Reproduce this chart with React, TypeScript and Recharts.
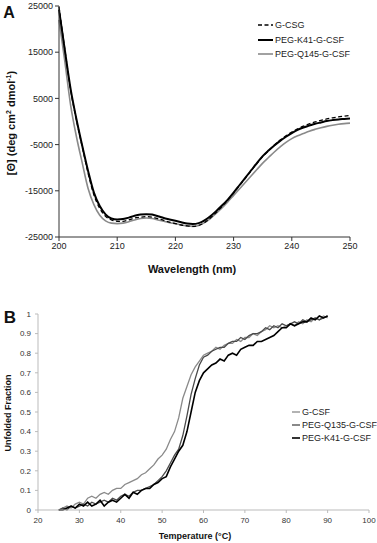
import React from "react";
import { LineChart, Line, XAxis, YAxis } from "recharts";

// Panel A – CD spectra
const wavelengths = [
  200, 201, 202, 203, 204, 205, 206, 207, 208, 209,
  210, 211, 212, 213, 214, 215, 216, 217, 218, 219,
  220, 221, 222, 223, 224, 225, 226, 227, 228, 229,
  230, 231, 232, 233, 234, 235, 236, 237, 238, 239,
  240, 241, 242, 243, 244, 245, 246, 247, 248, 249, 250,
];
const gcsgCD = [
  24800, 15600, 6800, 300, -5500, -11200, -15900, -18800, -20500, -21300,
  -21600, -21600, -21300, -20900, -20700, -20600, -20700, -21000, -21400, -21800,
  -22100, -22400, -22600, -22700, -22500, -21900, -20900, -19700, -18400, -17000,
  -15500, -13900, -12300, -10700, -9100, -7600, -6300, -5100, -4000, -3100,
  -2300, -1600, -1000, -500, -100, 250, 550, 800, 1000, 1150, 1300,
];
const k41CD = [
  24200, 15500, 7000, 500, -5300, -10700, -15400, -18300, -20100, -21000,
  -21200, -21100, -20800, -20400, -20150, -20050, -20150, -20500, -20900, -21200,
  -21500, -21800, -22100, -22200, -22000, -21400, -20500, -19400, -18200, -16900,
  -15400, -13800, -12200, -10600, -9000, -7500, -6300, -5200, -4200, -3300,
  -2500, -1800, -1300, -900, -500, -200, 100, 300, 450, 550, 650,
];
const q145CD = [
  22000, 13000, 3500, -3300, -9000, -14500, -18000, -20300, -21500, -22000,
  -22100, -22000, -21700, -21300, -21000, -20900, -21000, -21300, -21600, -21900,
  -22100, -22400, -22600, -22700, -22500, -21900, -21000, -19900, -18700, -17400,
  -16000, -14600, -13200, -11800, -10400, -9000, -7800, -6600, -5500, -4500,
  -3700, -3100, -2600, -2100, -1700, -1350, -1050, -800, -600, -450, -350,
];
const cdXTicks = [200, 210, 220, 230, 240, 250];
const cdYTicks = [-25000, -15000, -5000, 5000, 15000, 25000];

// Panel B – thermal unfolding
const temps = [
  25, 26, 27, 28, 29, 30, 31, 32, 33, 34, 35, 36, 37, 38, 39,
  40, 41, 42, 43, 44, 45, 46, 47, 48, 49, 50, 51, 52, 53, 54,
  55, 56, 57, 58, 59, 60, 61, 62, 63, 64, 65, 66, 67, 68, 69,
  70, 71, 72, 73, 74, 75, 76, 77, 78, 79, 80, 81, 82, 83, 84,
  85, 86, 87, 88, 89, 90,
];
const gcsfUnf = [
  0.0, 0.01, 0.02, 0.01, 0.03, 0.04, 0.03, 0.06, 0.07, 0.06, 0.08, 0.09, 0.08, 0.1, 0.11,
  0.11, 0.13, 0.14, 0.15, 0.16, 0.18, 0.19, 0.21, 0.23, 0.26, 0.28, 0.31, 0.36, 0.4, 0.47,
  0.57, 0.63, 0.69, 0.73, 0.76, 0.79, 0.8, 0.81, 0.83, 0.82, 0.84, 0.85, 0.85, 0.87, 0.86,
  0.88, 0.88, 0.9, 0.89, 0.91, 0.92, 0.94, 0.93, 0.94, 0.93, 0.94, 0.95, 0.94, 0.96, 0.95,
  0.97, 0.96, 0.98, 0.97, 0.99, 0.98,
];
const q135Unf = [
  0.0, 0.01, 0.0, 0.02, 0.01, 0.02, 0.03, 0.02, 0.04, 0.03, 0.04, 0.05, 0.04, 0.06, 0.05,
  0.07, 0.08, 0.07, 0.09, 0.1, 0.1, 0.11, 0.12, 0.13, 0.15, 0.17, 0.2, 0.24, 0.28, 0.31,
  0.38, 0.48, 0.59, 0.67, 0.74, 0.78, 0.79, 0.81, 0.82, 0.83, 0.83, 0.85, 0.86, 0.86, 0.88,
  0.87, 0.89, 0.9, 0.9, 0.91, 0.93, 0.92, 0.94, 0.93, 0.95, 0.94, 0.95, 0.96, 0.95, 0.97,
  0.96, 0.97, 0.98, 0.97, 0.98, 0.99,
];
const k41Unf = [
  0.0, 0.0, 0.01, 0.02, 0.01, 0.03, 0.02, 0.04, 0.02, 0.03, 0.05, 0.02, 0.04, 0.05, 0.04,
  0.06, 0.08, 0.06, 0.09, 0.08, 0.1, 0.11, 0.11, 0.13, 0.14, 0.16, 0.17, 0.22, 0.26, 0.3,
  0.33, 0.4, 0.5, 0.6, 0.66, 0.7, 0.72, 0.74, 0.75, 0.77, 0.76, 0.79, 0.8, 0.79, 0.82,
  0.83, 0.84, 0.84, 0.86, 0.86, 0.87, 0.88, 0.89, 0.91, 0.93, 0.93, 0.95, 0.94, 0.95, 0.96,
  0.96, 0.98, 0.97, 0.99, 0.98, 0.99,
];
const unfXTicks = [20, 30, 40, 50, 60, 70, 80, 90, 100];
const unfYTicks = [0, 0.1, 0.2, 0.3, 0.4, 0.5, 0.6, 0.7, 0.8, 0.9, 1];

const cdData = wavelengths.map((nm, i) => ({
  nm, gcsg: gcsgCD[i], k41: k41CD[i], q145: q145CD[i],
}));
const unfData = temps.map((t, i) => ({
  t, gcsf: gcsfUnf[i], q135: q135Unf[i], k41: k41Unf[i],
}));

const cdSeries = [
  { name: "G-CSG", color: "#000", width: 1.3, dash: "4 2.5" },
  { name: "PEG-K41-G-CSF", color: "#000", width: 2, dash: undefined },
  { name: "PEG-Q145-G-CSF", color: "#8a8a8a", width: 1.6, dash: undefined },
];
const unfSeries = [
  { name: "G-CSF", color: "#8a8a8a", width: 1.3 },
  { name: "PEG-Q135-G-CSF", color: "#4a4a4a", width: 1.3 },
  { name: "PEG-K41-G-CSF", color: "#000", width: 1.6 },
];

const FONT = '"Liberation Sans", Arial, sans-serif';

function Legend({ items, left, top, rowH, swatch }: any) {
  return (
    <div style={{ position: "absolute", left, top, fontSize: 9, color: "#222" }}>
      {items.map((s: any) => (
        <div key={s.name} style={{ display: "flex", alignItems: "center", height: rowH }}>
          <svg width={swatch} height={4} style={{ marginRight: 2 }}>
            <line x1={0} y1={2} x2={swatch} y2={2} stroke={s.color}
              strokeWidth={s.width} strokeDasharray={s.dash} />
          </svg>
          <span>{s.name}</span>
        </div>
      ))}
    </div>
  );
}

function Title({ x, y, size, rotate, children }: any) {
  return (
    <div style={{
      position: "absolute", left: x, top: y, fontSize: size, fontWeight: "bold",
      whiteSpace: "nowrap", color: "#111", lineHeight: 1,
      transform: `translate(-50%, -50%)${rotate ? " rotate(-90deg)" : ""}`,
    }}>
      {children}
    </div>
  );
}

export default function App() {
  return (
    <div style={{
      position: "fixed", left: 0, top: 0, width: 377, height: 543,
      background: "#fff", fontFamily: FONT, overflow: "hidden",
    }}>
      <div style={{ position: "absolute", left: 0, top: 0 }}>
        <LineChart width={377} height={267} data={cdData}
          margin={{ top: 6, right: 27, left: 0, bottom: 0 }}>
          <XAxis dataKey="nm" type="number" domain={[200, 250]} ticks={cdXTicks}
            stroke="#333" tickSize={4} height={30}
            tick={{ fontSize: 9, fill: "#222", fontFamily: FONT }} />
          <YAxis type="number" domain={[-25000, 25000]} ticks={cdYTicks}
            stroke="#333" tickSize={4} width={59}
            tick={{ fontSize: 9, fill: "#222", fontFamily: FONT }} />
          <Line type="monotone" dataKey="q145" stroke={cdSeries[2].color}
            strokeWidth={cdSeries[2].width} dot={false} isAnimationActive={false} />
          <Line type="monotone" dataKey="k41" stroke={cdSeries[1].color}
            strokeWidth={cdSeries[1].width} dot={false} isAnimationActive={false} />
          <Line type="monotone" dataKey="gcsg" stroke={cdSeries[0].color}
            strokeWidth={cdSeries[0].width} strokeDasharray={cdSeries[0].dash}
            dot={false} isAnimationActive={false} />
        </LineChart>
      </div>

      <div style={{ position: "absolute", left: 0, top: 300 }}>
        <LineChart width={377} height={240} data={unfData}
          margin={{ top: 14, right: 8, left: 0, bottom: 0 }}>
          <XAxis dataKey="t" type="number" domain={[20, 100]} ticks={unfXTicks}
            stroke="#bbb" tickSize={3} tickMargin={4} height={30}
            tick={{ fontSize: 8, fill: "#333", fontFamily: FONT }} />
          <YAxis type="number" domain={[0, 1]} ticks={unfYTicks}
            stroke="#bbb" tickSize={3} tickMargin={4} width={38}
            tick={{ fontSize: 8, fill: "#333", fontFamily: FONT }} />
          <Line type="linear" dataKey="gcsf" stroke={unfSeries[0].color}
            strokeWidth={unfSeries[0].width} dot={false} isAnimationActive={false} />
          <Line type="linear" dataKey="q135" stroke={unfSeries[1].color}
            strokeWidth={unfSeries[1].width} dot={false} isAnimationActive={false} />
          <Line type="linear" dataKey="k41" stroke={unfSeries[2].color}
            strokeWidth={unfSeries[2].width} dot={false} isAnimationActive={false} />
        </LineChart>
      </div>

      <Legend items={cdSeries} left={258} top={17.75} rowH={14.5} swatch={15} />
      <Legend items={unfSeries} left={292} top={405.5} rowH={13} swatch={8} />

      <Title x={9} y={13} size={16}>A</Title>
      <Title x={10} y={317} size={17}>B</Title>
      <Title x={192} y={269} size={11}>Wavelength (nm)</Title>
      <Title x={11} y={123} size={11} rotate>
        [Θ] (deg cm<sup style={{ fontSize: 7 }}>2</sup> dmol<sup style={{ fontSize: 7 }}>-1</sup>)
      </Title>
      <Title x={195} y={536} size={9}>Temperature (°C)</Title>
      <Title x={8} y={413} size={9} rotate>Unfolded Fraction</Title>
    </div>
  );
}
